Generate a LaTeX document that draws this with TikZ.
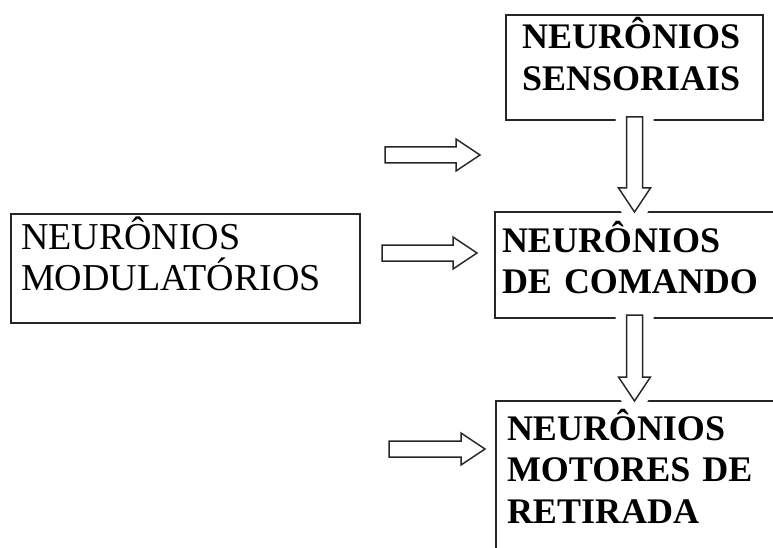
\documentclass[tikz,border=0pt]{standalone}
\usepackage{fontspec}
\setmainfont{Liberation Serif}
\usetikzlibrary{calc}

\begin{document}
\begin{tikzpicture}[x=1pt,y=-1pt,
  box/.style={draw=black!85,line width=1.2pt,anchor=north west,
    inner xsep=#1,inner ysep=0pt,outer sep=0pt,align=left},
  box/.default=10pt,
  boldtext/.style={font=\fontsize{36}{41.5}\selectfont\bfseries},
  plaintext/.style={font=\fontsize{38}{41}\selectfont},
  rarrow/.style={draw=black!85,line width=1.5pt,fill=white,
    to path={let \p1=(\tikztostart),\p2=(\tikztotarget) in
      (\x1,\y1+8) -- (\x2-24,\y1+8) -- (\x2-24,\y1+16) -- (\x2,\y1)
      -- (\x2-24,\y1-16) -- (\x2-24,\y1-8) -- (\x1,\y1-8) -- cycle}},
  darrow/.style={draw=black!85,line width=1.5pt,fill=white,
    preaction={draw=white,line width=22pt},
    to path={let \p1=(\tikztostart),\p2=(\tikztotarget) in
      (\x1-8,\y1+3) -- (\x1-8,\y2+24) -- (\x1-16,\y2+24) -- (\x1,\y2)
      -- (\x1+16,\y2+24) -- (\x1+8,\y2+24) -- (\x1+8,\y1+3) -- cycle}}]
  \useasboundingbox (0,0) rectangle (773,548);
  \clip (0,0) rectangle (773,548);
  % boxes
  \node[box=16pt,boldtext,text width=225pt,text height=34pt,text depth=71pt]
    (sens) at (506,15) {NEURÔNIOS\\SENSORIAIS};
  \node[box=10pt,plaintext,text width=329pt,text height=35pt,text depth=74pt]
    (mod) at (11,214) {NEURÔNIOS\\MODULATÓRIOS};
  \node[box=7pt,boldtext,text width=286pt,text height=40pt,text depth=66pt]
    (cmd) at (495,212) {NEURÔNIOS\\DE COMANDO};
  \node[box=11pt,boldtext,text width=278pt,text height=39pt,text depth=200pt]
    (mot) at (496,401) {NEURÔNIOS\\MOTORES DE\\RETIRADA};
  % free ends of the side arrows
  \coordinate (in1) at (385,155);
  \coordinate (out1) at (480,155);
  \coordinate (in2) at (382,253);
  \coordinate (out2) at (477,253);
  \coordinate (in3) at (389,449);
  \coordinate (out3) at (485,449);
  \draw[rarrow] (in1) to (out1);
  \draw[rarrow] (in2) to (out2);
  \draw[rarrow] (in3) to (out3);
  \draw[darrow] (sens.south) to (sens.south |- cmd.north);
  \draw[darrow] (sens.south |- cmd.south) to (sens.south |- mot.north);
\end{tikzpicture}
\end{document}
